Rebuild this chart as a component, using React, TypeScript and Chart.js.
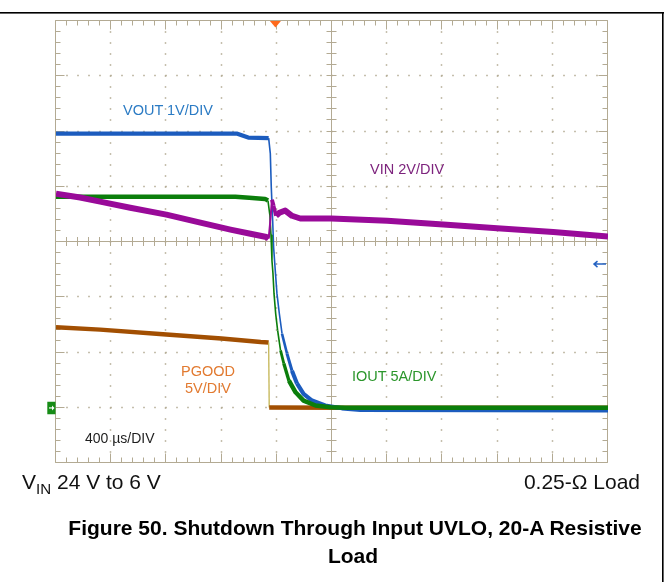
import React, { useEffect, useRef } from 'react';
import { Chart, registerables } from 'chart.js';

Chart.register(...registerables);

// ---- Data (read from the oscilloscope capture) ----
// time axis: 400 µs/div, 10 divisions
const timeTicksUs = [0, 400, 800, 1200, 1600, 2000, 2400, 2800, 3200, 3600, 4000];
// vertical graticule expressed in VOUT units (1 V/div, ground one division above bottom)
const voutGridVolts = [-1, 0, 1, 2, 3, 4, 5, 6, 7];

const voutTimeUs = [0, 1314, 1393, 1541, 1553, 1560, 1570, 1577, 1589, 1601, 1618, 1638, 1674, 1710, 1746, 1794, 1855, 1951, 2072, 2205, 4000];
const voutVolts = [4.96, 4.96, 4.89, 4.88, 4.6, 3.99, 3.39, 2.9, 2.48, 2.07, 1.71, 1.34, 0.98, 0.67, 0.44, 0.25, 0.13, 0.04, -0.01, -0.04, -0.05];

const ioutTimeUs = [0, 1300, 1400, 1515, 1536, 1550, 1558, 1565, 1572, 1580, 1592, 1606, 1627, 1651, 1688, 1736, 1794, 1881, 1990, 2100, 4000];
const ioutAmps = [19.1, 19.1, 19.0, 18.9, 18.75, 17.4, 15.6, 13.3, 12.2, 10.3, 8.5, 7.0, 5.2, 4.0, 2.45, 1.4, 0.65, 0.2, 0.05, 0, 0];

const vinTimeUs = [0, 175, 320, 538, 800, 1046, 1264, 1409, 1525, 1541, 1550, 1565, 1576, 1594, 1619, 1661, 1710, 1770, 1995, 2400, 2806, 3197, 3603, 4000];
const vinVolts = [7.75, 7.61, 7.46, 7.24, 6.99, 6.7, 6.45, 6.3, 6.18, 6.12, 6.59, 7.53, 7.32, 6.95, 7.06, 7.14, 6.95, 6.85, 6.85, 6.77, 6.63, 6.5, 6.36, 6.2];

const pgoodTimeUs = [0, 320, 800, 1199, 1483, 1541, 1545, 2100, 4000];
const pgoodVolts = [7.28, 7.07, 6.62, 6.26, 5.94, 5.9, 0.02, 0, 0];

const triggerTimeUs = 1590;
const voutTriggerLevel = 2.6;

const FF = '"Liberation Sans", Arial, Helvetica, sans-serif';
const GRID = '#b3aa93';

const toPts = (xs: number[], ys: number[]) => xs.map((x, i) => ({ x, y: ys[i] }));
const slope = (c: any) => Math.abs(c.p1.y - c.p0.y) / Math.max(0.01, Math.abs(c.p1.x - c.p0.x));
const steep = (c: any) => slope(c) > 6;
// a noisy scope trace looks thinner where it is steep
const widthFor = (base: number, min: number) => (c: any) => {
  const s = slope(c);
  if (s <= 2.5) return undefined;
  return Math.max(min, Math.min(base, (base * 2.5) / s));
};

const graticulePlugin = {
  id: 'graticule',
  beforeDatasetsDraw(chart: any) {
    const { ctx, chartArea: a, scales } = chart;
    const xs = scales.x;
    const ys = scales.yV;
    const s = (p: number) => Math.round(p) - 0.5;
    const xDiv = timeTicksUs.map((t) => xs.getPixelForValue(t));
    const yDiv = voutGridVolts.map((v) => ys.getPixelForValue(v));
    const minorX: number[] = [];
    for (let i = 0; i < xDiv.length - 1; i++)
      for (let k = 0; k <= 4; k++) minorX.push(xDiv[i] + ((xDiv[i + 1] - xDiv[i]) * k) / 5);
    minorX.push(xDiv[xDiv.length - 1]);
    const minorY: number[] = [];
    for (let j = 0; j < yDiv.length - 1; j++)
      for (let k = 0; k <= 4; k++) minorY.push(yDiv[j] + ((yDiv[j + 1] - yDiv[j]) * k) / 5);
    minorY.push(yDiv[yDiv.length - 1]);
    const L = s(a.left), R = s(a.right), T = s(a.top), B = s(a.bottom);
    const xc = s(xDiv[5]);
    const yc = s(yDiv[4]);
    ctx.save();
    ctx.strokeStyle = GRID;
    ctx.fillStyle = GRID;
    ctx.lineWidth = 1;
    // dotted division lines
    for (let i = 1; i < xDiv.length - 1; i++) {
      if (i === 5) continue;
      const x = s(xDiv[i]);
      minorY.forEach((y, k) => {
        if (k === 0 || k === minorY.length - 1) return;
        ctx.fillRect(x - 0.75, Math.round(y) - 0.75, 1.5, 1.5);
      });
    }
    for (let j = 1; j < yDiv.length - 1; j++) {
      if (j === 4) continue;
      const y = s(yDiv[j]);
      minorX.forEach((x, k) => {
        if (k === 0 || k === minorX.length - 1) return;
        ctx.fillRect(Math.round(x) - 0.75, y - 0.75, 1.5, 1.5);
      });
    }
    ctx.beginPath();
    // border
    ctx.rect(L, T, R - L, B - T);
    // centre cross
    ctx.moveTo(xc, T); ctx.lineTo(xc, B);
    ctx.moveTo(L, yc); ctx.lineTo(R, yc);
    // ticks
    minorX.forEach((x, k) => {
      const px = s(x);
      const major = k % 5 === 0;
      const len = major ? 9 : 5;
      ctx.moveTo(px, T); ctx.lineTo(px, T + len);
      ctx.moveTo(px, B); ctx.lineTo(px, B - len);
      ctx.moveTo(px, yc - 4.5); ctx.lineTo(px, yc + 4.5);
    });
    minorY.forEach((y, k) => {
      const py = s(y);
      const major = k % 5 === 0;
      const len = major ? 9 : 5;
      ctx.moveTo(L, py); ctx.lineTo(L + len, py);
      ctx.moveTo(R, py); ctx.lineTo(R - len, py);
      ctx.moveTo(xc - 5, py); ctx.lineTo(xc + 5, py);
    });
    ctx.stroke();
    ctx.restore();
  },
  afterDatasetsDraw(chart: any) {
    const { ctx, chartArea: a, scales } = chart;
    ctx.save();
    // trigger position marker
    const tx = scales.x.getPixelForValue(triggerTimeUs);
    ctx.fillStyle = '#ff6a1c';
    ctx.beginPath();
    ctx.moveTo(tx - 5.5, a.top);
    ctx.lineTo(tx + 5.5, a.top);
    ctx.lineTo(tx, a.top + 6.5);
    ctx.closePath();
    ctx.fill();
    // channel ground marker (left)
    const gy = scales.yI.getPixelForValue(0);
    ctx.fillStyle = '#168c16';
    ctx.fillRect(a.left - 8.7, gy - 6, 8.2, 12.5);
    ctx.strokeStyle = '#ffffff';
    ctx.fillStyle = '#ffffff';
    ctx.lineWidth = 1.2;
    ctx.beginPath();
    ctx.moveTo(a.left - 7, gy + 0.2);
    ctx.lineTo(a.left - 3, gy + 0.2);
    ctx.stroke();
    ctx.beginPath();
    ctx.moveTo(a.left - 1.5, gy + 0.2);
    ctx.lineTo(a.left - 4, gy - 2.3);
    ctx.lineTo(a.left - 4, gy + 2.7);
    ctx.closePath();
    ctx.fill();
    // trigger level marker (right)
    const ly = scales.yV.getPixelForValue(voutTriggerLevel);
    ctx.strokeStyle = '#2462c2';
    ctx.lineWidth = 1.5;
    ctx.beginPath();
    ctx.moveTo(a.right - 2, ly);
    ctx.lineTo(a.right - 14, ly);
    ctx.moveTo(a.right - 10.5, ly - 3);
    ctx.lineTo(a.right - 14, ly);
    ctx.lineTo(a.right - 10.5, ly + 3);
    ctx.stroke();
    ctx.restore();
  },
  afterDraw(chart: any) {
    const { ctx } = chart;
    ctx.save();
    ctx.fillStyle = '#000000';
    ctx.fillRect(0, 12, 664, 1.6);
    ctx.fillRect(662, 12, 1.6, 570);
    ctx.restore();
  },
};

function Label(props: {
  x: number; baseline: number; size: number; color: string; children: React.ReactNode;
  align?: 'left' | 'center' | 'right'; bold?: boolean; stretch?: number;
}) {
  const { x, baseline, size, color, children, align = 'left', bold, stretch = 1 } = props;
  const style: React.CSSProperties = {
    position: 'absolute',
    top: baseline - 0.8465 * size,
    fontFamily: FF,
    fontSize: size,
    lineHeight: 1,
    fontWeight: bold ? 700 : 400,
    color,
    whiteSpace: 'nowrap',
  };
  if (align === 'left') {
    style.left = x;
    style.transform = `scaleX(${stretch})`;
    style.transformOrigin = 'left center';
  } else if (align === 'right') {
    style.right = 669 - x;
    style.transform = `scaleX(${stretch})`;
    style.transformOrigin = 'right center';
  } else {
    style.left = x;
    style.transform = `translateX(-50%) scaleX(${stretch})`;
    style.transformOrigin = 'center center';
  }
  return <div style={style}>{children}</div>;
}

export default function App() {
  const ref = useRef<HTMLCanvasElement | null>(null);
  useEffect(() => {
    if (!ref.current) return;
    const base = {
      pointRadius: 0,
      tension: 0,
      fill: false,
      borderJoinStyle: 'round' as const,
      borderCapStyle: 'butt' as const,
    };
    const chart = new Chart(ref.current, {
      type: 'line',
      data: {
        datasets: [
          {
            ...base,
            label: 'VIN',
            data: toPts(vinTimeUs, vinVolts),
            yAxisID: 'yVin',
            borderColor: '#990a99',
            borderWidth: 6,
            segment: { borderWidth: widthFor(6, 2) },
          },
          {
            ...base,
            label: 'IOUT',
            data: toPts(ioutTimeUs, ioutAmps),
            yAxisID: 'yI',
            borderColor: '#0b7e0b',
            borderWidth: 4.5,
            segment: { borderWidth: widthFor(4.5, 1.6) },
          },
          {
            ...base,
            label: 'VOUT',
            data: toPts(voutTimeUs, voutVolts),
            yAxisID: 'yV',
            borderColor: '#1c5cbe',
            borderWidth: 4.2,
            segment: { borderWidth: widthFor(4.2, 1.6) },
          },
          {
            ...base,
            label: 'PGOOD',
            data: toPts(pgoodTimeUs, pgoodVolts),
            yAxisID: 'yPg',
            borderColor: '#a24f02',
            borderWidth: 4.5,
            segment: {
              borderWidth: (c: any) => (steep(c) ? 1.3 : undefined),
              borderColor: (c: any) => (steep(c) ? '#c4b553' : undefined),
            },
          },
        ],
      },
      options: {
        animation: false,
        responsive: false,
        maintainAspectRatio: false,
        events: [],
        layout: { padding: { left: 56, top: 21, right: 61, bottom: 119 } },
        plugins: { legend: { display: false }, tooltip: { enabled: false }, title: { display: false } },
        scales: {
          x: { type: 'linear', min: 0, max: 4000, display: false },
          yV: { type: 'linear', min: -1, max: 7, display: false },
          yI: { type: 'linear', min: -5, max: 35, display: false },
          yVin: { type: 'linear', min: -2, max: 14, display: false },
          yPg: { type: 'linear', min: -5, max: 35, display: false },
        },
      },
      plugins: [graticulePlugin],
    });
    return () => chart.destroy();
  }, []);

  return (
    <div style={{ position: 'absolute', left: 0, top: 0, width: 669, height: 582, background: '#ffffff', overflow: 'hidden' }}>
      <canvas ref={ref} width={669} height={582} style={{ display: 'block', width: 669, height: 582 }} />
      <Label x={123} baseline={115} size={14.5} color="#2b7bc4">VOUT 1V/DIV</Label>
      <Label x={370} baseline={174} size={14.5} color="#7d237d">VIN 2V/DIV</Label>
      <Label x={208} baseline={376} size={14.5} color="#e27a30" align="center">PGOOD</Label>
      <Label x={208} baseline={393.3} size={14.5} color="#e27a30" align="center">5V/DIV</Label>
      <Label x={352} baseline={381.7} size={14.5} color="#2b962b">IOUT 5A/DIV</Label>
      <Label x={85} baseline={442.5} size={14} color="#1e1e1e">400 µs/DIV</Label>
      <Label x={22} baseline={489} size={21} color="#111111">
        V<span style={{ fontSize: '0.72em', position: 'relative', top: '0.3em' }}>IN</span> 24 V to 6 V
      </Label>
      <Label x={640} baseline={489} size={21} color="#111111" align="right">0.25-Ω Load</Label>
      <Label x={355} baseline={535} size={21} color="#000000" align="center" bold>
        Figure 50. Shutdown Through Input UVLO, 20-A Resistive
      </Label>
      <Label x={353} baseline={563} size={21} color="#000000" align="center" bold>Load</Label>
    </div>
  );
}
